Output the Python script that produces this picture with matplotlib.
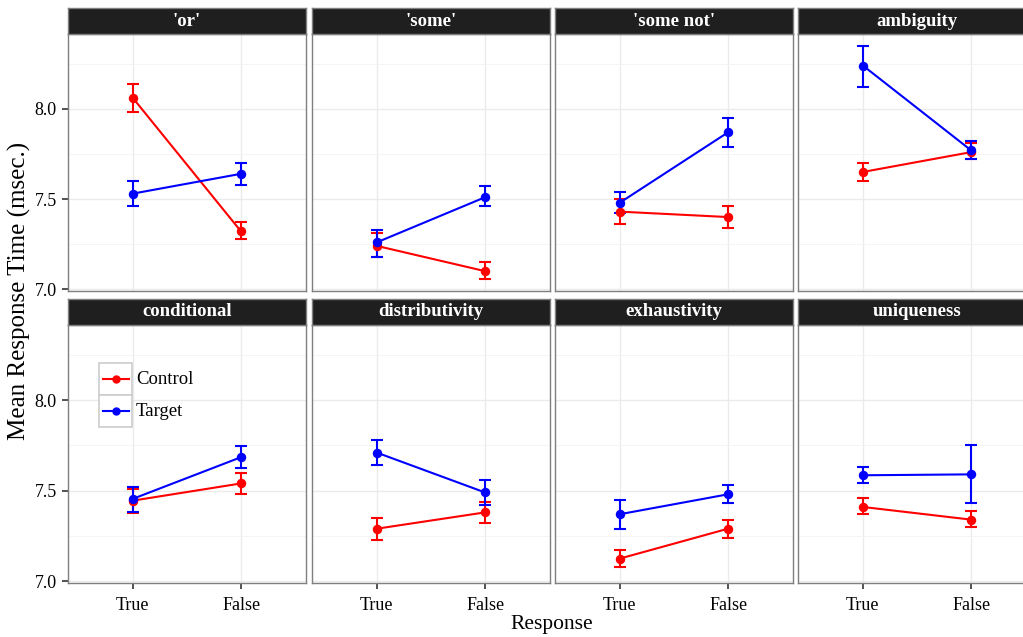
import matplotlib
matplotlib.use("Agg")
import matplotlib.pyplot as plt
from matplotlib.patches import Rectangle
from matplotlib.lines import Line2D

# data (True, False per panel)
categories = ["'or'", "'some'", "'some not'", "ambiguity",
              "conditional", "distributivity", "exhaustivity", "uniqueness"]
responses = ["True", "False"]

control_mean = [[8.06, 7.32], [7.24, 7.10], [7.43, 7.40], [7.65, 7.76],
                [7.445, 7.54], [7.29, 7.38], [7.125, 7.29], [7.41, 7.34]]
control_lo = [[7.98, 7.28], [7.18, 7.055], [7.36, 7.34], [7.60, 7.72],
              [7.375, 7.48], [7.23, 7.32], [7.08, 7.24], [7.37, 7.30]]
control_hi = [[8.14, 7.37], [7.31, 7.15], [7.50, 7.46], [7.70, 7.81],
              [7.51, 7.60], [7.35, 7.44], [7.17, 7.34], [7.46, 7.385]]

target_mean = [[7.53, 7.64], [7.26, 7.51], [7.48, 7.87], [8.24, 7.77],
               [7.455, 7.685], [7.71, 7.49], [7.37, 7.48], [7.585, 7.59]]
target_lo = [[7.46, 7.58], [7.18, 7.46], [7.42, 7.79], [8.12, 7.72],
             [7.38, 7.625], [7.64, 7.42], [7.29, 7.43], [7.54, 7.43]]
target_hi = [[7.60, 7.70], [7.33, 7.57], [7.54, 7.95], [8.35, 7.82],
              [7.52, 7.745], [7.78, 7.56], [7.45, 7.53], [7.63, 7.75]]

series = [("Control", "#FF0000", control_mean, control_lo, control_hi),
          ("Target", "#0000FF", target_mean, target_lo, target_hi)]

plt.rcParams['font.family'] = ['Liberation Serif', 'DejaVu Serif']

W, H = 1023, 637
fig = plt.figure(figsize=(W / 100, H / 100), dpi=100)

col_left = [68, 312, 555, 798]
panel_w = 238
rows = [(8, 34, 291), (299, 325, 583)]  # strip top, panel top, panel bottom

def fbox(x0, y0, x1, y1):
    return [x0 / W, 1 - y1 / H, (x1 - x0) / W, (y1 - y0) / H]

x = [1, 2]
for i, cat in enumerate(categories):
    r, c = divmod(i, 4)
    st, pt, pb = rows[r]
    x0 = col_left[c]
    ax = fig.add_axes(fbox(x0, pt, x0 + panel_w, pb))
    ax.set_xlim(0.4, 2.6)
    ax.set_ylim(6.99, 8.415)
    ax.set_yticks([7.0, 7.5, 8.0])
    ax.set_yticks([7.25, 7.75, 8.25], minor=True)
    ax.set_xticks(x)
    ax.set_xticklabels(responses)
    ax.grid(True, which='major', color='#ebebeb', lw=1.0, zorder=0)
    ax.grid(True, which='minor', axis='y', color='#f3f3f3', lw=0.6, zorder=0)
    ax.set_axisbelow(True)
    for s in ax.spines.values():
        s.set_color('#7f7f7f')
        s.set_linewidth(1.0)
    ax.tick_params(which='minor', length=0)
    ax.tick_params(which='major', labelsize=13, color='#333333', length=4,
                   width=1.2, labelcolor='black', pad=4)
    ax.tick_params(axis='x', pad=6)
    if c != 0:
        ax.tick_params(axis='y', left=False, labelleft=False)
    if r == 0:
        ax.tick_params(axis='x', bottom=False, labelbottom=False)

    for name, color, m, lo, hi in series:
        yerr = [[m[i][k] - lo[i][k] for k in range(2)],
                [hi[i][k] - m[i][k] for k in range(2)]]
        ax.errorbar(x, m[i], yerr=yerr, color=color, lw=1.5, marker='o',
                    ms=5.8, capsize=4, capthick=1.5, elinewidth=1.5, zorder=3)

    sax = fig.add_axes(fbox(x0, st, x0 + panel_w, pt))
    sax.set_facecolor('#1f1f1f')
    sax.set_xticks([])
    sax.set_yticks([])
    for s in sax.spines.values():
        s.set_color('#7f7f7f')
        s.set_linewidth(1.0)
    sax.text(0.5, 0.5, cat, color='white', fontsize=13.5, fontweight='bold',
             ha='center', va='center', transform=sax.transAxes)

fig.text(552 / W, 1 - 625 / H, "Response", ha='center', va='center', fontsize=15.5)
fig.text(19 / W, 1 - 291 / H, "Mean Response Time (msec.)", ha='center',
         va='center', rotation=90, fontsize=18)

# legend inside the conditional panel, ggplot style key boxes
for k, (name, color, *_rest) in enumerate(series):
    yc = 379 + k * 32
    fig.add_artist(Rectangle((99 / W, 1 - (yc + 16) / H), 33 / W, 32 / H,
                             transform=fig.transFigure, facecolor='white',
                             edgecolor='#cccccc', lw=1.2))
    fig.add_artist(Line2D([103 / W, 129 / W], [1 - yc / H, 1 - yc / H],
                          transform=fig.transFigure, color=color, lw=1.5))
    fig.add_artist(Line2D([116 / W], [1 - yc / H], transform=fig.transFigure,
                          color=color, marker='o', ms=5, lw=0))
    fig.text(136 / W, 1 - yc / H, name, fontsize=13.5, va='center', ha='left')

fig.savefig("out.png", dpi=100)
